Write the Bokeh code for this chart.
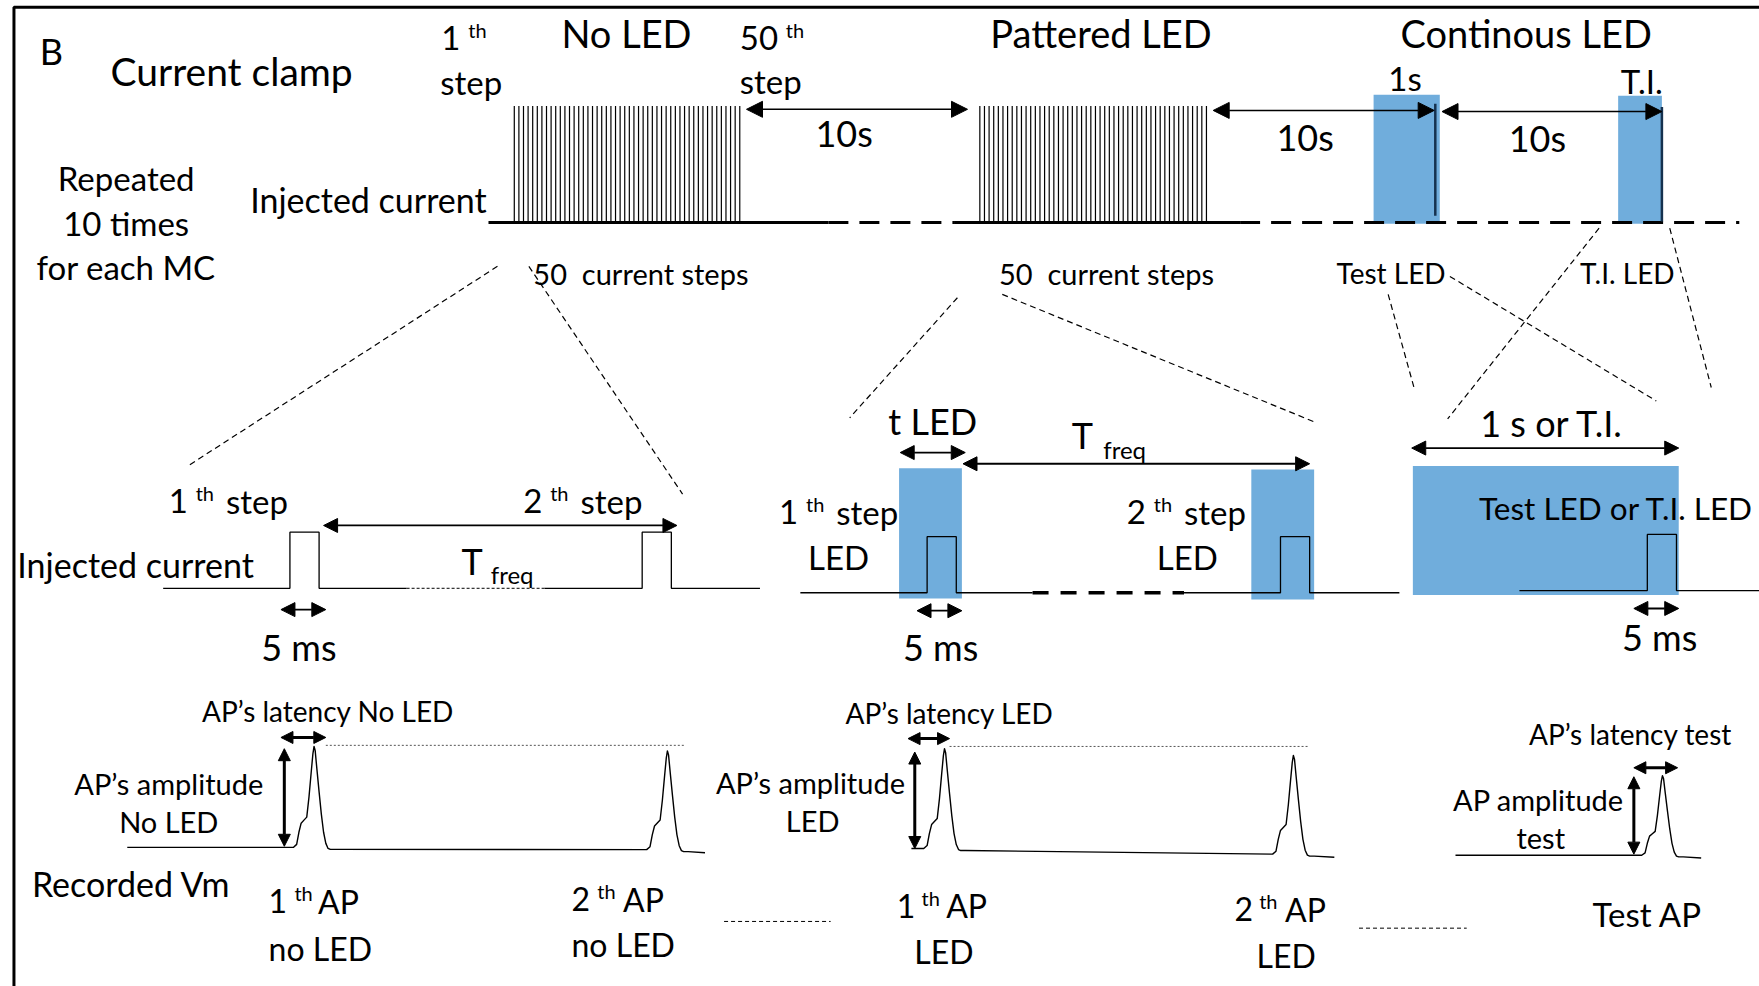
import numpy as np
from bokeh.plotting import figure
from bokeh.models import Range1d, Arrow, NormalHead
from bokeh.core.properties import value
from bokeh.embed import file_html
from bokeh.resources import INLINE

# ---------------- design grid (schematic units) ----------------
GRID_W, GRID_H = 1568, 879
FONT = "Lato"
BLUE = "#70ADDC"
NAVY = "#16324F"
NB = "\u00a0"

# ---------------- top protocol trace ----------------
n_steps = 50
step_blocks_x = [(458, 659), (873, 1075)]          # No LED block, Patterned LED block
step_top, step_base = 94, 198
baseline_solid = [(435, 738), (850, 1105)]
baseline_dashed = [(738, 850), (1105, 1550)]
led_blocks_top = [(1224, 1283, 84, 199), (1442, 1481, 85, 199)]   # 1 s test, T.I.
led_block_marks = [(1279, 92, 192), (1481, 95, 197)]
interval_arrows_top = [(665, 862, 97), (1081, 1278, 98), (1285, 1481, 99)]

# ---------------- injected current (zoom panels) ----------------
pulse_width = 26
pulse_height = 50
left_pulses = [258, 572];   left_base = 524;  left_span = (145, 677);  left_gap = (362, 485)
mid_pulses = [826, 1141];   mid_base = 528;   mid_span = (713, 1247);  mid_gap = (920, 1055)
right_pulses = [1468];      right_base = 526; right_span = (1354, 1568)
led_rects_mid = [(801, 857, 417, 533), (1115, 1171, 418, 534), (1259, 1496, 415, 530)]
mid_arrows = [(288, 603, 468), (250, 290, 543), (802, 860, 403), (858, 1167, 413),
              (817, 857, 544), (1258, 1496, 399), (1456, 1496, 542)]

# ---------------- recorded Vm ----------------
# action-potential shape: offset from foot, fraction of amplitude
ap_dx = [0, 3, 5, 7, 9.5, 12, 14, 16, 17.5, 18.5, 19.5, 21, 23, 25, 27, 29, 31, 33, 37]
ap_dy = [0, -0.03, -0.15, -0.24, -0.27, -0.30, -0.50, -0.75, -0.93, -1.0, -0.96, -0.78,
         -0.55, -0.33, -0.15, -0.04, 0.01, 0.02, 0.02]
vm_traces = [
    dict(start=113, end=628, aps=[(261, 755, 90), (576, 757, 88)]),
    dict(start=812, end=1189, aps=[(823, 756, 89), (1134, 761, 88)]),
    dict(start=1297, end=1516, aps=[(1463, 762, 71)]),
]
peak_guides = [(290, 610, 664), (846, 1166, 665)]
continuation_dashes = [(645, 740, 821), (1211, 1307, 827)]
latency_arrows = [(250, 290, 657), (809, 846, 658), (1456, 1495, 684)]
amplitude_arrows = [(253, 667, 754), (815, 670, 756), (1456, 692, 761)]

# ---------------- zoom guide lines ----------------
zoom_guides = [(443, 237, 167, 415), (471, 237, 608, 440), (853, 265, 757, 372),
               (893, 262, 1172, 376), (1237, 262, 1260, 345), (1292, 246, 1476, 357),
               (1425, 203, 1290, 373), (1488, 203, 1525, 345)]

# ---------------- texts: (text, x, y, size, align) ----------------
labels = [
    ("B", 35, 45, 36, "left"),
    ("Current clamp", 206, 63, 39, "center"),
    ("No LED", 558, 29, 38, "center"),
    ("Pattered LED", 981, 29, 38, "center"),
    ("Continous LED", 1360, 29, 38, "center"),
    ("1", 393, 33, 33, "left"), ("th", 417, 26, 20, "left"), ("step", 392, 73, 33, "left"),
    ("50", 659, 33, 33, "left"), ("th", 700, 26, 20, "left"), ("step", 659, 72, 33, "left"),
    ("1s", 1252, 69, 33, "center"),
    ("T.I.", 1463, 72, 33, "center"),
    ("10s", 752, 118, 36, "center"),
    ("10s", 1163, 122, 36, "center"),
    ("10s", 1370, 123, 36, "center"),
    ("Repeated", 112, 158, 33, "center"),
    ("10 times", 112, 198, 33, "center"),
    ("for each MC", 112, 238, 33, "center"),
    ("Injected current", 328, 177, 34, "center"),
    ("50" + NB + NB + "current steps", 475, 243, 29, "left"),
    ("50" + NB + NB + "current steps", 890, 243, 29, "left"),
    ("Test LED", 1191, 243, 28, "left"),
    ("T.I. LED", 1408, 243, 28, "left"),
    # left zoom panel
    ("1", 150, 446, 33, "left"), ("th", 174, 439, 20, "left"), ("step", 201, 446, 33, "left"),
    ("2", 466, 446, 33, "left"), ("th", 490, 439, 20, "left"), ("step", 517, 446, 33, "left"),
    ("T", 411, 500, 36, "left"), ("freq", 437, 512, 24, "left"),
    ("Injected current", 15, 503, 34, "left"),
    ("5 ms", 266, 576, 36, "center"),
    # middle zoom panel
    ("t LED", 831, 375, 36, "center"),
    ("T", 955, 387, 36, "left"), ("freq", 983, 400, 24, "left"),
    ("1", 694, 456, 33, "left"), ("th", 718, 449, 20, "left"), ("step", 745, 456, 33, "left"),
    ("LED", 747, 496, 33, "center"),
    ("2", 1004, 456, 33, "left"), ("th", 1028, 449, 20, "left"), ("step", 1055, 456, 33, "left"),
    ("LED", 1058, 496, 33, "center"),
    ("5 ms", 838, 576, 36, "center"),
    # right zoom panel
    ("1 s or T.I.", 1383, 377, 36, "center"),
    ("Test LED or T.I. LED", 1318, 452, 31.5, "left"),
    ("5 ms", 1479, 567, 36, "center"),
    # recorded Vm
    ("AP\u2019s latency No LED", 292, 633, 28, "center"),
    ("AP\u2019s amplitude", 150, 698, 29, "center"),
    ("No LED", 150, 732, 29, "center"),
    ("Recorded Vm", 28, 787, 34, "left"),
    ("1", 239, 803, 32, "left"), ("th", 262, 796, 20, "left"), ("AP", 283, 803, 32, "left"),
    ("no LED", 239, 845, 32, "left"),
    ("2", 509, 801, 32, "left"), ("th", 532, 794, 20, "left"), ("AP", 555, 801, 32, "left"),
    ("no LED", 509, 842, 32, "left"),
    ("AP\u2019s latency LED", 846, 635, 28, "center"),
    ("AP\u2019s amplitude", 722, 697, 29, "center"),
    ("LED", 724, 731, 29, "center"),
    ("1", 799, 807, 32, "left"), ("th", 821, 800, 20, "left"), ("AP", 843, 807, 32, "left"),
    ("LED", 841, 848, 32, "center"),
    ("2", 1100, 810, 32, "left"), ("th", 1122, 803, 20, "left"), ("AP", 1145, 810, 32, "left"),
    ("LED", 1146, 851, 32, "center"),
    ("AP\u2019s latency test", 1453, 654, 28, "center"),
    ("AP amplitude", 1371, 712, 29, "center"),
    ("test", 1373, 746, 29, "center"),
    ("Test AP", 1468, 814, 33, "center"),
]

# ---------------- figure ----------------
p = figure(width=1759, height=986, x_range=Range1d(0, GRID_W), y_range=Range1d(GRID_H, 0),
           output_backend="svg", toolbar_location=None,
           x_axis_location=None, y_axis_location=None, min_border=0)
p.grid.visible = False
p.outline_line_color = None
p.background_fill_color = "white"
p.border_fill_color = "white"

# frame
p.line([12, 12, GRID_W], [GRID_H, 6, 6], line_color="black", line_width=3)

# blue LED rectangles
for x0, x1, y0, y1 in led_blocks_top + led_rects_mid:
    p.quad(left=x0, right=x1, top=y0, bottom=y1, fill_color=BLUE, line_color=None)

# top step blocks
for x0, x1 in step_blocks_x:
    xs = np.linspace(x0, x1, n_steps)
    p.segment(x0=xs, y0=[step_base] * n_steps, x1=xs, y1=[step_top] * n_steps,
              line_color="black", line_width=1.2)
for x0, x1 in baseline_solid:
    p.line([x0, x1], [step_base, step_base], line_color="black", line_width=3)
for x0, x1 in baseline_dashed:
    p.line([x0, x1], [step_base, step_base], line_color="black", line_width=3, line_dash="20 11")
for x, y0, y1 in led_block_marks:
    p.line([x, x], [y0, y1], line_color=NAVY, line_width=2.5)


def darrow(x0, y0, x1, y1, lw=1.5, size=14):
    p.add_layout(Arrow(x_start=x0, y_start=y0, x_end=x1, y_end=y1, line_width=lw,
                       line_color="black",
                       start=NormalHead(size=size, fill_color="black", line_color="black"),
                       end=NormalHead(size=size, fill_color="black", line_color="black")))


for x0, x1, y in interval_arrows_top:
    darrow(x0, y, x1, y, 1.5, 16)


# injected current traces
def pulse_trace(onsets, base, x_start, x_end):
    xs, ys = [x_start], [base]
    for o in onsets:
        xs += [o, o, o + pulse_width, o + pulse_width]
        ys += [base, base - pulse_height, base - pulse_height, base]
    xs.append(x_end); ys.append(base)
    return xs, ys


xs, ys = pulse_trace(left_pulses[:1], left_base, left_span[0], left_gap[0])
p.line(xs, ys, line_color="black", line_width=1.3)
p.line(list(left_gap), [left_base] * 2, line_color="black", line_width=1.0, line_dash="3 2")
xs, ys = pulse_trace(left_pulses[1:], left_base, left_gap[1], left_span[1])
p.line(xs, ys, line_color="black", line_width=1.3)

xs, ys = pulse_trace(mid_pulses[:1], mid_base, mid_span[0], mid_gap[0])
p.line(xs, ys, line_color="black", line_width=1.3)
p.line(list(mid_gap), [mid_base] * 2, line_color="black", line_width=3.5, line_dash="16 12")
xs, ys = pulse_trace(mid_pulses[1:], mid_base, mid_gap[1], mid_span[1])
p.line(xs, ys, line_color="black", line_width=1.3)

xs, ys = pulse_trace(right_pulses, right_base, right_span[0], right_span[1])
p.line(xs, ys, line_color="black", line_width=1.3)

for x0, x1, y in mid_arrows:
    darrow(x0, y, x1, y, 1.8, 14)

# zoom guides
for x0, y0, x1, y1 in zoom_guides:
    p.line([x0, x1], [y0, y1], line_color="black", line_width=1.2, line_dash="6 4")

# recorded Vm
for tr in vm_traces:
    xs, ys = [tr["start"]], [tr["aps"][0][1]]
    for foot, base, amp in tr["aps"]:
        xs += [foot + d for d in ap_dx]
        ys += [base + f * amp for f in ap_dy]
    xs.append(tr["end"]); ys.append(ys[-1] + 1)
    p.line(xs, ys, line_color="black", line_width=1.4, line_join="round")

for x0, x1, y in peak_guides:
    p.line([x0, x1], [y, y], line_color="#555555", line_width=1, line_dash="2 2")
for x0, x1, y in continuation_dashes:
    p.line([x0, x1], [y, y], line_color="black", line_width=1, line_dash="4 3")
for x0, x1, y in latency_arrows:
    darrow(x0, y, x1, y, 3, 12)
for x, y0, y1 in amplitude_arrows:
    darrow(x, y0, x, y1, 3, 12)

# texts
for txt, x, y, size, align in labels:
    p.text(x=[x], y=[y], text=[txt], text_font=value(FONT), text_font_size=f"{size}px",
           text_align=align, text_baseline="middle", text_color="black")

open("out.html", "w").write(file_html(p, INLINE))
